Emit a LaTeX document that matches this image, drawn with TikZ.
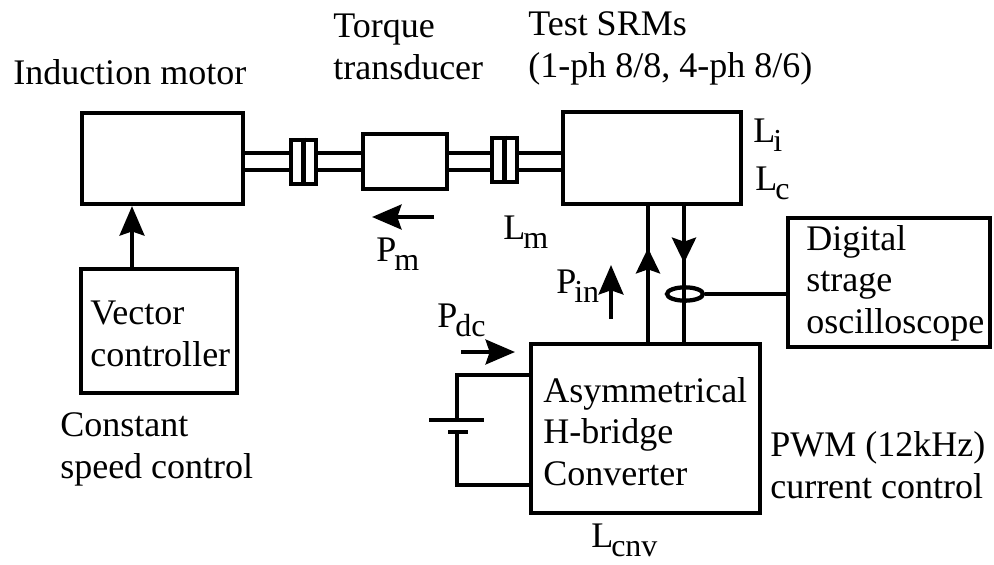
\documentclass[tikz,border=0pt]{standalone}
\usepackage{fontspec}
\setmainfont{Liberation Serif}
\usetikzlibrary{arrows.meta,shapes.geometric}
\newcommand{\lsub}[2]{#1\kern-1.5pt\raisebox{-7pt}{\fontsize{24}{24}\selectfont #2}}
\begin{document}
\begin{tikzpicture}[
  x=0.75pt, y=-0.75pt,
  every node/.style={font=\fontsize{27}{31}\selectfont},
  block/.style={rectangle, draw=black, line width=3.4pt, inner sep=0pt},
  lbl/.style={align=left, inner sep=0pt, anchor=base west},
  wire/.style={line width=3.2pt, draw=black},
  flow/.style={line width=3.2pt, draw=black, -{Stealth[length=22pt, width=18.5pt, inset=3pt]}},
  flowshort/.style={line width=3.2pt, draw=black, -{Stealth[length=19pt, width=18pt, inset=3pt]}}
]
  \useasboundingbox (0,0) rectangle (994,564);

  % Bloques
  \node[block, minimum width=121pt, minimum height=68pt] (motor) at (162.5,158.5) {};
  \node[block, minimum width=117pt, minimum height=93pt] (vector) at (159,331) {};
  \node[block, minimum width=63pt, minimum height=41pt] (torque) at (405,161.5) {};
  \node[block, minimum width=133.5pt, minimum height=69pt] (srm) at (652,158) {};
  \node[block, minimum width=172pt, minimum height=127pt] (conv) at (645.5,428.5) {};
  \node[block, minimum width=151.5pt, minimum height=96.75pt] (scope) at (889,282.5) {};

  % Acoplamientos
  \node[block, minimum width=19pt, minimum height=33pt] (cplA) at (303.5,162) {};
  \node[block, minimum width=19pt, minimum height=33pt] (cplB) at (504.5,160) {};
  \draw[wire] (cplA.north) -- (cplA.south);
  \draw[wire] (cplB.north) -- (cplB.south);

  % Ejes
  \coordinate (shaftU) at (0,153);
  \coordinate (shaftL) at (0,170);
  \foreach \from/\to in {motor/cplA, cplA/torque, torque/cplB, cplB/srm} {
    \draw[wire] (\from.east |- shaftU) -- (\to.west |- shaftU);
    \draw[wire] (\from.east |- shaftL) -- (\to.west |- shaftL);
  }

  % Flechas
  \coordinate (feed) at (132,0);
  \draw[flow] (vector.north -| feed) -- (motor.south -| feed);
  \coordinate (wireUp) at (648,0);
  \coordinate (wireDn) at (684,0);
  \coordinate (headUp) at (648,248);
  \coordinate (headDn) at (684,263);
  \draw[wire] (conv.north -| wireUp) -- (srm.south -| wireUp);
  \draw[wire] (srm.south -| wireDn) -- (conv.north -| wireDn);
  \draw[flowshort] (conv.north -| wireUp) -- (headUp);
  \draw[flowshort] (srm.south -| wireDn) -- (headDn);

  % Sonda de corriente
  \node[ellipse, draw=black, line width=3.2pt, minimum width=27pt, minimum height=10pt, inner sep=0pt] (probe) at (685,294) {};
  \draw[wire] (probe.east) -- (scope.west |- probe.east);

  % Bateria
  \coordinate (batT) at (457,420);
  \coordinate (batB) at (457,432);
  \coordinate (batU) at (0,375);
  \coordinate (batL) at (0,485);
  \coordinate (plateA) at (429,420);
  \coordinate (plateB) at (484,420);
  \coordinate (plateC) at (448,432);
  \coordinate (plateD) at (468,432);
  \draw[wire] (conv.west |- batU) -| (batT);
  \draw[wire] (conv.west |- batL) -| (batB);
  \draw[wire] (plateA) -- (plateB);
  \draw[wire] (plateC) -- (plateD);

  % Flechas de potencia
  \coordinate (pmA) at (434,217);
  \coordinate (pmB) at (372,217);
  \coordinate (pinA) at (611,319);
  \coordinate (pinB) at (611,265);
  \coordinate (pdcA) at (461,352);
  \coordinate (pdcB) at (515,352);
  \draw[flow] (pmA) -- (pmB);
  \draw[flow] (pinA) -- (pinB);
  \draw[flow] (pdcA) -- (pdcB);

  % Etiquetas
  \node[lbl] (lblMotor) at (13,84) {Induction motor};
  \node[lbl] (lblTorque) at (333,79) {Torque\\transducer};
  \node[lbl] (lblSrm) at (528,77) {Test SRMs\\(1-ph 8/8, 4-ph 8/6)};
  \node[lbl] (lblVector) at (90,366) {Vector\\controller};
  \node[lbl] (lblConv) at (543,485) {Asymmetrical\\H-bridge\\Converter};
  \node[lbl] (lblScope) at (806,333) {Digital\\strage\\oscilloscope};
  \node[lbl] (lblLi) at (753,142) {\lsub{L}{i}};
  \node[lbl] (lblLc) at (755,190) {\lsub{L}{c}};
  \node[lbl] (lblLm) at (503,239) {\lsub{L}{m}};
  \node[lbl] (lblPm) at (376,261) {\lsub{P}{m}};
  \node[lbl] (lblPin) at (556,293) {\lsub{P}{in}};
  \node[lbl] (lblPdc) at (437,327) {\lsub{P}{dc}};
  \node[lbl] (lblSpeed) at (60,478) {Constant\\speed control};
  \node[lbl] (lblPwm) at (770,498) {PWM (12kHz)\\current control};
  \node[lbl] (lblLcnv) at (591,547) {\lsub{L}{cnv}};
\end{tikzpicture}
\end{document}
